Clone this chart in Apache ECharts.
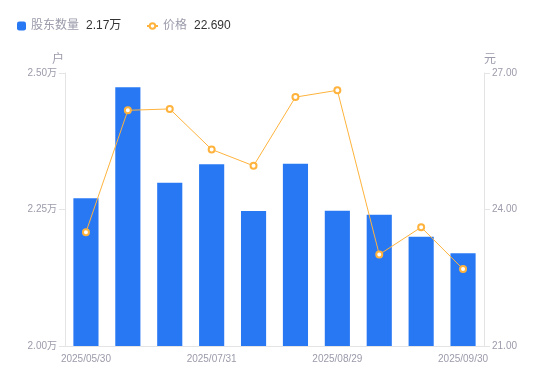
<!DOCTYPE html>
<html>
<head>
<meta charset="utf-8">
<script src="https://cdn.jsdelivr.net/npm/echarts@6/dist/echarts.min.js"></script>
<style>
  html, body { margin: 0; padding: 0; background: #fff; }
  #chart { width: 550px; height: 381px; }
</style>
</head>
<body>
<div id="chart"></div>
<script>
// 日期（只显示 0,3,6,9）
var dates = ['2025/05/30', '2025/06/20', '2025/06/30', '2025/07/31', '2025/08/08',
             '2025/08/20', '2025/08/29', '2025/09/10', '2025/09/19', '2025/09/30'];
// 股东数量（户）
var holders = [22705, 24738, 22990, 23328, 22473, 23339, 22478, 22405, 22002, 21700];
// 价格（元）
var prices = [23.50, 26.18, 26.21, 25.32, 24.96, 26.47, 26.62, 23.01, 23.61, 22.69];

var blue = '#2878F4';
var orange = '#FFB33D';
var gray = '#9b9bab';
var font = '"Liberation Sans", "Noto Sans CJK SC", sans-serif';

function wan(v) { return (v / 10000).toFixed(2) + '万'; }

var lastHolder = wan(holders[holders.length - 1]);
var lastPrice = prices[prices.length - 1].toFixed(3);

function legendFmt(name) {
    var v = name === '股东数量' ? lastHolder : lastPrice;
    return '{n|' + name + '}{v|' + v + '}';
}

var legendText = {
    fontFamily: font,
    rich: {
        n: { color: gray, fontSize: 12, fontFamily: font },
        v: { color: '#333', fontSize: 12, fontFamily: font, padding: [0, 0, 0, 7] }
    }
};

var chart = echarts.init(document.getElementById('chart'));

var option = {
    animation: false,
    textStyle: { fontFamily: font },
    legend: [
        {
            left: 12,
            top: 15,
            itemWidth: 9,
            itemHeight: 9,
            data: [{ name: '股东数量', icon: 'roundRect' }],
            formatter: legendFmt,
            textStyle: legendText
        },
        {
            left: 141,
            top: 15,
            itemWidth: 11,
            itemHeight: 7,
            data: ['价格'],
            formatter: legendFmt,
            textStyle: legendText
        }
    ],
    grid: { left: 65, right: 66, top: 73, bottom: 35 },
    xAxis: {
        type: 'category',
        data: dates,
        axisLine: { lineStyle: { color: '#e4e4e4' } },
        axisTick: { show: false },
        axisLabel: {
            interval: 2,
            color: gray,
            fontSize: 10,
            fontFamily: font,
            margin: 8
        }
    },
    yAxis: [
        {
            type: 'value',
            name: '户',
            nameGap: 7,
            nameTextStyle: { color: gray, fontSize: 12, padding: [0, 14, 0, 0] },
            min: 20000,
            max: 25000,
            interval: 2500,
            axisLine: { show: true, lineStyle: { color: '#e4e4e4' } },
            axisTick: { show: true, length: 6, lineStyle: { color: '#e4e4e4' } },
            splitLine: { show: false },
            axisLabel: {
                color: gray,
                fontSize: 10,
                fontFamily: font,
                formatter: function (v) { return wan(v); }
            }
        },
        {
            type: 'value',
            name: '元',
            nameGap: 7,
            nameTextStyle: { color: gray, fontSize: 12, padding: [0, 0, 0, 12] },
            min: 21,
            max: 27,
            interval: 3,
            axisLine: { show: true, lineStyle: { color: '#e4e4e4' } },
            axisTick: { show: true, length: 6, lineStyle: { color: '#e4e4e4' } },
            splitLine: { show: false },
            axisLabel: {
                color: gray,
                fontSize: 10,
                fontFamily: font,
                formatter: function (v) { return v.toFixed(2); }
            }
        }
    ],
    series: [
        {
            name: '股东数量',
            type: 'bar',
            yAxisIndex: 0,
            data: holders,
            barWidth: '60%',
            itemStyle: { color: blue }
        },
        {
            name: '价格',
            type: 'line',
            yAxisIndex: 1,
            data: prices,
            symbol: 'emptyCircle',
            symbolSize: 6,
            lineStyle: { color: orange, width: 1 },
            itemStyle: { color: orange, borderColor: orange, borderWidth: 2 },
            z: 5
        }
    ]
};

chart.setOption(option);
</script>
</body>
</html>
